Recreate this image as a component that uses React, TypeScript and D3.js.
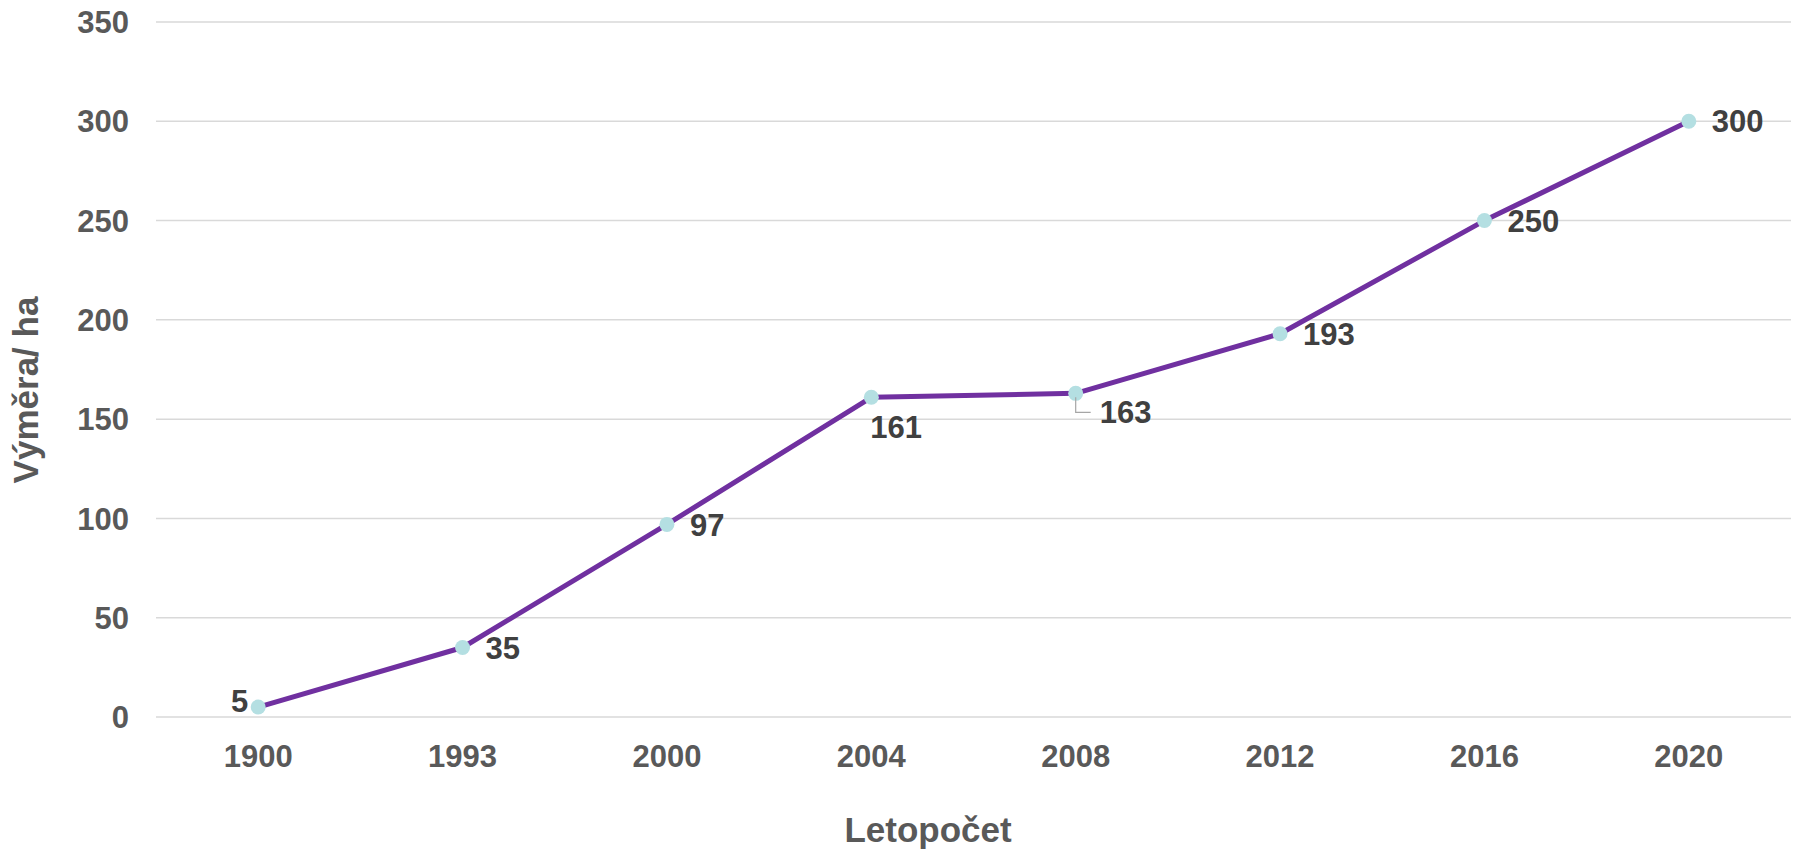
import React from "react";
import * as d3 from "d3";

const years = ["1900", "1993", "2000", "2004", "2008", "2012", "2016", "2020"];
const area = [5, 35, 97, 161, 163, 193, 250, 300];
const yTicks = [0, 50, 100, 150, 200, 250, 300, 350];
// label placement per point (layout, not data)
const labelPlace = ["left", "right", "right", "below", "leader", "right", "right", "right"];

const W = 1797;
const H = 852;
const M = { left: 156, right: 6, top: 22, bottom: 135 };
const FONT = "'Liberation Sans', Arial, sans-serif";

export default function App() {
  const x = d3
    .scaleBand<string>()
    .domain(years)
    .range([M.left, W - M.right]);
  const y = d3
    .scaleLinear()
    .domain([0, 350])
    .range([H - M.bottom, M.top]);
  const cx = (d: string) => (x(d) as number) + x.bandwidth() / 2;

  const line = d3
    .line<number>()
    .x((_, i) => cx(years[i]))
    .y((v) => y(v));

  return (
    <svg
      width={W}
      height={H}
      style={{ position: "absolute", left: 0, top: 0, display: "block", background: "#fff" }}
      fontFamily={FONT}
      fontWeight="bold"
    >
      {yTicks.map((t) => (
        <g key={t}>
          <line x1={M.left} x2={W - M.right} y1={y(t)} y2={y(t)} stroke="#d9d9d9" strokeWidth={1.5} />
          <text x={129} y={y(t)} dy="0.36em" textAnchor="end" fontSize={31} fill="#595959">
            {t}
          </text>
        </g>
      ))}
      {years.map((yr) => (
        <text key={yr} x={cx(yr)} y={767} textAnchor="middle" fontSize={31} fill="#595959">
          {yr}
        </text>
      ))}
      <path d={line(area) || ""} fill="none" stroke="#7030A0" strokeWidth={5} strokeLinejoin="round" />
      {area.map((v, i) => (
        <circle key={i} cx={cx(years[i])} cy={y(v)} r={7.5} fill="#B4DFE2" />
      ))}
      {area.map((v, i) => {
        const px = cx(years[i]);
        const py = y(v);
        const p = labelPlace[i];
        if (p === "left") {
          return (
            <text key={i} x={px - 10} y={py - 6} dy="0.36em" textAnchor="end" fontSize={31} fill="#404040">
              {v}
            </text>
          );
        }
        if (p === "below") {
          return (
            <text key={i} x={px - 1} y={py + 41} textAnchor="start" fontSize={31} fill="#404040">
              {v}
            </text>
          );
        }
        if (p === "leader") {
          return (
            <g key={i}>
              <polyline
                points={`${px},${py + 4} ${px},${py + 19} ${px + 15},${py + 19}`}
                fill="none"
                stroke="#a6a6a6"
                strokeWidth={1.2}
              />
              <text x={px + 24} y={py + 30} textAnchor="start" fontSize={31} fill="#404040">
                {v}
              </text>
            </g>
          );
        }
        return (
          <text key={i} x={px + 23} y={py} dy="0.36em" textAnchor="start" fontSize={31} fill="#404040">
            {v}
          </text>
        );
      })}
      <text x={928} y={842} textAnchor="middle" fontSize={35} fill="#595959">
        Letopočet
      </text>
      <text
        transform={`translate(38, 390) rotate(-90)`}
        textAnchor="middle"
        fontSize={35}
        fill="#595959"
      >
        Výměra/ ha
      </text>
    </svg>
  );
}
